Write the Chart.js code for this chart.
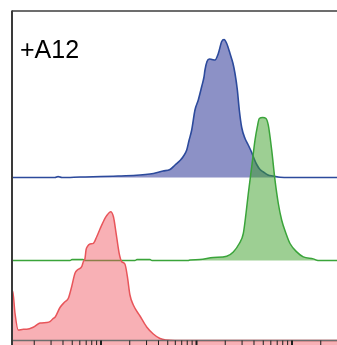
<!DOCTYPE html>
<html>
<head>
<meta charset="utf-8">
<script src="https://cdn.jsdelivr.net/npm/chart.js@4.4.1/dist/chart.umd.min.js"></script>
<style>
  html, body { margin: 0; padding: 0; background: #ffffff; }
  canvas { display: block; }
</style>
</head>
<body>
<canvas id="c" width="337" height="345"></canvas>
<script>
// ---- data (fluorescence intensity, log scale; counts in arbitrary units) ----
const panelLabel = "+A12";
const xMin = 1.17;
const xMax = 2959;

const blueX = [1.17, 3.30, 3.55, 3.90, 6.03, 15.1, 32.6, 44.6, 52.8, 59.6, 67.2, 72.7, 79.0, 83.5, 89.1, 96.4, 104.4, 113.4, 119.8, 122.7, 128.8, 136.2, 145.3, 156.2, 169.2, 183.6, 194.1, 207.2, 224.3, 241.1, 253.0, 267.4, 280.6, 297.4, 322.1, 346.2, 378.4, 400.0, 427.0, 462.3, 500.7, 560.8, 637.2, 748.7, 953, 2959];
const blueY = [0, 0, 1, 0, 0.5, 1.5, 3.5, 6.5, 8, 12.5, 17, 21, 27.5, 37, 47.5, 67.5, 77.5, 91, 100.5, 107.5, 116, 118.5, 118, 117.5, 124, 136, 138, 134, 124, 114, 104, 88, 67.5, 50, 39, 33, 25, 19, 13, 8, 5.5, 2.5, 1.5, 0.2, 0, 0];

const greenX = [1.17, 4.74, 4.97, 6.48, 6.80, 22.7, 23.8, 32.6, 34.2, 81.5, 85.5, 108.8, 149.9, 207.2, 242.8, 280.6, 309.1, 329.8, 348.7, 378.4, 409.8, 433.1, 454.6, 493.5, 534.3, 564.7, 613.0, 663.7, 718.8, 780.3, 865.3, 953, 1120, 1313, 1671, 1872, 2959];
const greenY = [0, 0, 1, 1, 0, 0, 1, 1, 0, 0, 0.5, 1, 3, 4.3, 8.6, 17, 27, 47, 67, 93.6, 120.3, 133.6, 142, 143, 142, 135.3, 110.3, 80.3, 57, 40.3, 27, 17, 8.6, 3.6, 1.6, 0, 0];

const redX = [1.14, 1.19, 1.257, 1.36, 1.54, 1.67, 1.95, 2.30, 2.70, 2.92, 3.17, 3.30, 3.72, 4.20, 4.55, 4.93, 5.34, 5.74, 6.28, 6.53, 6.80, 6.97, 7.19, 7.67, 8.31, 9.02, 9.76, 11.0, 11.6, 12.6, 13.5, 14.4, 15.5, 16.5, 17.8, 18.9, 20.1, 21.8, 25.6, 30.1, 35.3, 41.5, 48.8, 59.6, 2959];
const redY = [54, 54, 32, 15, 15.7, 15.7, 17.7, 22, 22.5, 23.3, 26.7, 27.7, 37.5, 43.3, 46.7, 58.3, 71.7, 75.5, 78.3, 83.3, 86.7, 95, 98.3, 101, 101.7, 108.3, 116, 126.7, 130, 133.3, 128.3, 111.7, 91.7, 83.3, 81, 68.3, 50, 40, 29, 18, 11, 6.5, 5, 4.5, 4.5];

// vertical stacking offsets of each histogram baseline (y units)
const blueBase = 167.5;
const greenBase = 84.5;
const redBase = 0;
const yMax = 334;
const axisLevel = 4.5;

const tickDecades = [1, 10, 100, 1000];
const tickMultipliers = [1, 2, 3, 4, 5, 6, 7, 8, 9];

function pts(xs, ys, base) {
  return xs.map((x, i) => ({ x: x, y: base + ys[i] }));
}

const framePlugin = {
  id: 'frame',
  afterDatasetsDraw(chart) {
    const { ctx, chartArea, scales } = chart;
    const xs = scales.x, ys = scales.y;
    ctx.save();
    // top line
    ctx.strokeStyle = '#3c3c3c';
    ctx.lineWidth = 1.3;
    ctx.beginPath();
    ctx.moveTo(chartArea.left, chartArea.top);
    ctx.lineTo(chartArea.right, chartArea.top);
    ctx.stroke();
    // bottom axis line
    const ay = ys.getPixelForValue(axisLevel);
    ctx.strokeStyle = '#6e6e6e';
    ctx.lineWidth = 1.6;
    ctx.beginPath();
    ctx.moveTo(chartArea.left, ay);
    ctx.lineTo(chartArea.right, ay);
    ctx.stroke();
    // ticks
    ctx.strokeStyle = '#1e1e1e';
    tickDecades.forEach(d => {
      tickMultipliers.forEach(k => {
        const v = d * k;
        if (v < xMin || v > xMax) return;
        const px = xs.getPixelForValue(v);
        ctx.lineWidth = k === 1 ? 2 : 1;
        ctx.beginPath();
        ctx.moveTo(px, ay);
        ctx.lineTo(px, chartArea.bottom + 1);
        ctx.stroke();
      });
    });
    // left line
    ctx.strokeStyle = '#3a3a3a';
    ctx.lineWidth = 2;
    ctx.beginPath();
    ctx.moveTo(chartArea.left, chartArea.top - 0.5);
    ctx.lineTo(chartArea.left, chartArea.bottom + 1);
    ctx.stroke();
    // label
    ctx.fillStyle = '#000000';
    ctx.font = '25px "Liberation Sans", Arial, sans-serif';
    ctx.textBaseline = 'alphabetic';
    ctx.textAlign = 'left';
    ctx.fillText(panelLabel, chartArea.left + 8, chartArea.top + 47);
    ctx.restore();
  }
};

new Chart(document.getElementById('c'), {
  type: 'line',
  data: {
    datasets: [
      {
        label: 'red',
        data: pts(redX, redY, redBase),
        borderColor: '#e8555a',
        backgroundColor: 'rgba(240,80,90,0.45)',
        borderWidth: 1.5,
        fill: { value: redBase },
        pointRadius: 0,
        cubicInterpolationMode: 'monotone'
      },
      {
        label: 'green',
        data: pts(greenX, greenY, greenBase),
        borderColor: '#3aa43a',
        backgroundColor: 'rgba(60,160,40,0.5)',
        borderWidth: 1.5,
        fill: { value: greenBase },
        pointRadius: 0,
        cubicInterpolationMode: 'monotone'
      },
      {
        label: 'blue',
        data: pts(blueX, blueY, blueBase),
        borderColor: '#2c4a9c',
        backgroundColor: 'rgba(64,72,160,0.6)',
        borderWidth: 1.6,
        fill: { value: blueBase },
        pointRadius: 0,
        cubicInterpolationMode: 'monotone'
      }
    ]
  },
  options: {
    responsive: false,
    animation: false,
    devicePixelRatio: 1,
    layout: { padding: { left: 12, top: 11, right: 0, bottom: 0 } },
    plugins: { legend: { display: false }, tooltip: { enabled: false }, title: { display: false } },
    scales: {
      x: { type: 'logarithmic', min: xMin, max: xMax, display: false },
      y: { type: 'linear', min: 0, max: yMax, display: false }
    }
  },
  plugins: [framePlugin]
});
</script>
</body>
</html>
